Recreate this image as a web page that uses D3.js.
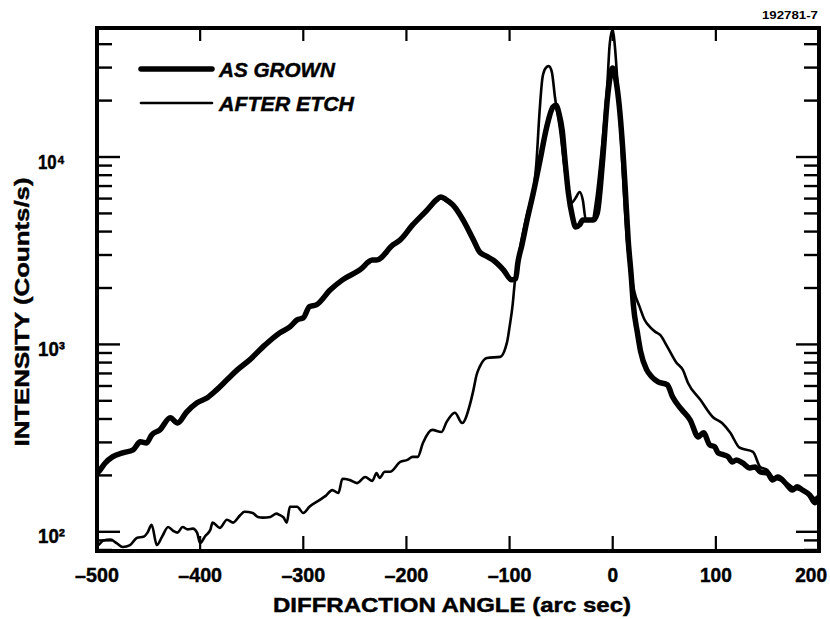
<!DOCTYPE html>
<html>
<head>
<meta charset="utf-8">
<script src="https://cdn.jsdelivr.net/npm/d3@7"></script>
<style>
  body { margin: 0; background: #fff; }
  text { font-family: "Liberation Sans", Arial, Helvetica, sans-serif; font-weight: bold; fill: #000; }
</style>
</head>
<body>
<svg id="chart" width="830" height="619"></svg>
<script>
// X-ray rocking curves: intensity vs diffraction angle, before and after etching
const xTickValues = [-500, -400, -300, -200, -100, 0, 100, 200];
const yDecadeValues = [100, 1000, 10000];
const legendLabels = ["AS GROWN", "AFTER ETCH"];
const figureCode = "192781-7";
const xTitle = "DIFFRACTION ANGLE (arc sec)";
const yTitle = "INTENSITY (Counts/s)";

const asGrownAngle = [-500,-497,-492,-485,-475,-465,-458,-452,-447,-439,-429,-422,-413,-403,-393,-384,-374,-364,-352,-337,
  -323,-313,-306,-300,-294,-287,-274,-262,-245,-233,-229,-213,-206,-194,-180,-171,-167,-162,-155,-145,
  -135,-129,-122,-116,-106,-98,-94,-92,-88,-83,-77,-71,-64,-58,-55,-52,-49,-46,-43,-39,
  -36,-32,-29,-19,-15,-10,-5,0,4,7,10,12,15,18,20,24,27,33,38,44,
  53,58,67,75,83,88,94,99,102,107,112,116,120,126,133,138,143,150,155,160,
  169,174,179,184,191,196,199,200];
const asGrownIntensity = [205,214,233,251,264,274,302,298,329,350,406,381,436,488,519,572,647,731,827,994,
  1151,1240,1352,1385,1590,1630,1950,2210,2500,2820,2820,3400,3610,4340,5210,5900,6120,5950,5550,4610,
  3610,3110,2950,2820,2500,2210,2250,2720,3400,4610,6430,9290,14450,18480,18910,17000,13930,9290,6430,4790,
  4230,4350,4610,4610,5020,9290,20900,29830,24000,17180,10500,7000,3600,2300,1630,1150,920,731,670,631,
  608,525,448,396,321,338,291,284,264,258,251,236,242,233,219,222,209,206,189,196,
  178,167,174,167,157,143,152,145];

const afterEtchAngle = [-500,-499,-494,-487,-481,-475,-468,-461,-455,-451,-447,-442,-437,-431,-426,-422,-417,-412,-407,-403,
  -400,-395,-390,-388,-381,-374,-368,-361,-357,-349,-344,-339,-332,-326,-323,-319,-316,-313,-306,-300,
  -294,-284,-278,-272,-266,-262,-255,-248,-240,-233,-229,-226,-221,-216,-206,-199,-194,-189,-184,-175,
  -166,-161,-153,-146,-138,-135,-132,-129,-122,-109,-104,-102,-100,-97,-95,-91,-86,-82,-78,-74,
  -71,-68,-65,-62,-59,-56,-51,-46,-40,-36,-32,-29,-26,-20,-16,-12,-8,-5,-3,0,
  2,5,8,11,14,17,21,26,31,36,41,46,53,62,68,73,85,97,106,114,
  123,136,143,150,155,162,169,175,182,188,194,199,200];
const afterEtchIntensity = [86,85,90,91,87,83,85,93,94,99,109,85,94,106,101,99,106,103,104,99,
  87,95,103,112,105,116,112,123,128,126,120,119,120,125,123,119,112,136,136,126,
  136,148,156,167,161,192,189,182,196,187,206,194,209,209,236,242,251,251,298,350,
  341,386,432,381,488,572,687,759,847,858,958,1057,1240,1630,2130,3000,4180,5210,6120,9290,
  17180,26700,29830,30540,28400,20900,13930,8220,5690,6040,6500,5900,4610,4610,5900,9290,15740,25750,39500,48000,
  39500,23000,12500,6200,3500,2590,1910,1590,1350,1240,1170,1123,970,796,731,623,506,410,381,338,
  281,267,222,214,196,189,182,172,167,161,154,143,140];

const svg = d3.select("#chart");
const plotLeft = 97, plotRight = 819, plotTop = 28, plotBottom = 551;

const x = d3.scaleLinear().domain([-500, 200]).range([plotLeft, plotRight]);
const y = d3.scaleLog().domain([79, 48800]).range([plotBottom, plotTop]);

svg.append("clipPath").attr("id", "plotClip")
  .append("rect").attr("x", plotLeft).attr("y", plotTop)
  .attr("width", plotRight - plotLeft).attr("height", plotBottom - plotTop);

const line = d3.line()
  .x(d => x(d[0]))
  .y(d => y(d[1]))
  .curve(d3.curveMonotoneX);

const grown = d3.zip(asGrownAngle, asGrownIntensity);
const etched = d3.zip(afterEtchAngle, afterEtchIntensity);

const plot = svg.append("g").attr("clip-path", "url(#plotClip)");
plot.append("path").datum(etched).attr("d", line)
  .attr("fill", "none").attr("stroke", "#000").attr("stroke-width", 2.6).attr("stroke-linejoin", "round");
plot.append("path").datum(grown).attr("d", line)
  .attr("fill", "none").attr("stroke", "#000").attr("stroke-width", 5.5).attr("stroke-linejoin", "round");

// ticks: x on bottom and top, log y on left and right (all pointing inward)
const axes = svg.append("g").attr("stroke", "#000");
xTickValues.forEach(v => {
  axes.append("line").attr("x1", x(v)).attr("x2", x(v)).attr("y1", plotBottom).attr("y2", plotBottom - 15).attr("stroke-width", 2.2);
  axes.append("line").attr("x1", x(v)).attr("x2", x(v)).attr("y1", plotTop).attr("y2", plotTop + 13).attr("stroke-width", 2.2);
});
const [yLo, yHi] = y.domain();
y.ticks().filter(v => v >= yLo && v <= yHi).forEach(v => {
  const isDecade = yDecadeValues.includes(v);
  const len = isDecade ? 23 : 15;
  axes.append("line").attr("x1", plotLeft).attr("x2", plotLeft + len).attr("y1", y(v)).attr("y2", y(v)).attr("stroke-width", 2.4);
  axes.append("line").attr("x1", plotRight).attr("x2", plotRight - len).attr("y1", y(v)).attr("y2", y(v)).attr("stroke-width", 2.4);
});

svg.append("rect").attr("x", plotLeft).attr("y", plotTop)
  .attr("width", plotRight - plotLeft).attr("height", plotBottom - plotTop)
  .attr("fill", "none").attr("stroke", "#000").attr("stroke-width", 4);

// heavier lettering: bold fill plus a thin outline
const heavy = sel => sel.attr("stroke", "#000").attr("stroke-width", 0.45);

// x tick labels
const fmtX = v => (v < 0 ? "\u2013" : "") + Math.abs(v);
xTickValues.forEach(v => {
  const s = fmtX(v);
  const w = s.replace("\u2013", "").length * 10.6 + (v < 0 ? 12 : 0);
  const cx = Math.min(x(v), 827 - w / 2);
  svg.append("text").attr("x", cx).attr("y", 582)
    .attr("text-anchor", "middle").attr("font-size", 20)
    .attr("textLength", w).attr("lengthAdjust", "spacingAndGlyphs").text(s).call(heavy);
});

// y decade labels: 10 with a superscript exponent character
const superDigits = "\u2070\u00b9\u00b2\u00b3\u2074\u2075\u2076\u2077\u2078\u2079";
yDecadeValues.forEach(v => {
  const e = Math.round(Math.log10(v));
  svg.append("text").attr("x", 38).attr("y", y(v) + 11.5).attr("font-size", 20)
    .attr("textLength", 27).attr("lengthAdjust", "spacingAndGlyphs")
    .text("10" + superDigits[e]).call(heavy);
});

// axis titles
svg.append("text").attr("x", 452).attr("y", 612).attr("text-anchor", "middle").attr("font-size", 21)
  .attr("textLength", 358).attr("lengthAdjust", "spacingAndGlyphs").text(xTitle).call(heavy);
svg.append("text").attr("transform", "translate(29,312) rotate(-90)").attr("text-anchor", "middle").attr("font-size", 20)
  .attr("textLength", 269).attr("lengthAdjust", "spacingAndGlyphs").text(yTitle).call(heavy);

// figure code
svg.append("text").attr("x", 818).attr("y", 19).attr("text-anchor", "end").attr("font-size", 11)
  .attr("textLength", 56).attr("lengthAdjust", "spacingAndGlyphs").text(figureCode);

// legend
const legendY = [69, 103];
const legendW = [5.5, 2.6];
const legendLen = [116, 135];
legendLabels.forEach((lab, i) => {
  svg.append("line").attr("x1", 141).attr("x2", 212).attr("y1", legendY[i]).attr("y2", legendY[i])
    .attr("stroke", "#000").attr("stroke-width", legendW[i]).attr("stroke-linecap", "round");
  svg.append("text").attr("x", 219).attr("y", legendY[i] + 8).attr("font-size", 20).attr("font-style", "italic")
    .attr("textLength", legendLen[i]).attr("lengthAdjust", "spacingAndGlyphs").text(lab).call(heavy);
});
</script>
</body>
</html>
